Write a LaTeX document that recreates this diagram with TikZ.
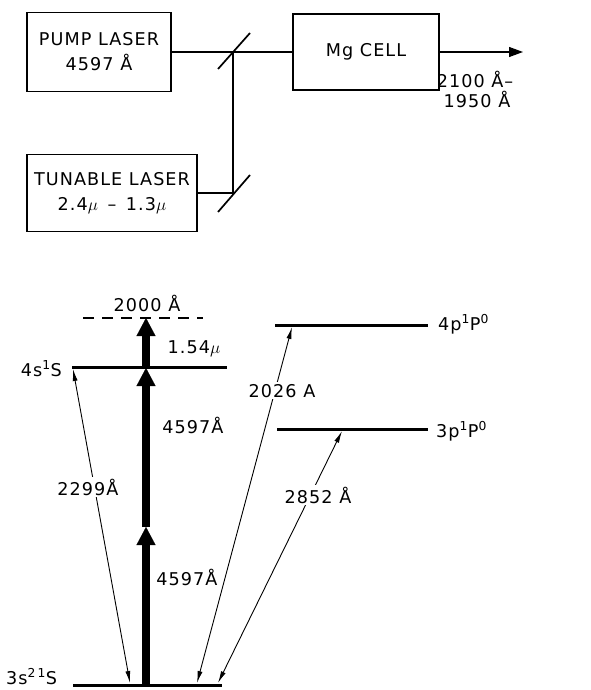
\documentclass[tikz,border=0pt]{standalone}
\usepackage{fontspec}
\setmainfont[LetterSpace=6]{DejaVu Sans}
\usetikzlibrary{arrows.meta,calc}
\begin{document}
\begin{tikzpicture}[x=1pt,y=-1pt,
  txt/.style={font=\fontsize{17.6}{22}\selectfont, inner sep=1pt, anchor=base},
  cut/.style={txt, fill=white, inner sep=2pt},
  box/.style={draw, line width=1.3pt, inner sep=0pt, align=center, font=\fontsize{17.6}{25}\selectfont},
  beam/.style={line width=1.1pt},
  mirror/.style={line width=1.7pt},
  level/.style={line width=3pt},
  trans/.style={line width=0.9pt, {Latex[length=12pt,width=5pt]}-{Latex[length=12pt,width=5pt]}},
  pumparrow/.style={line width=8pt, -{Triangle[length=18pt,width=19pt,line width=0.1pt]}},
  outarrow/.style={beam, -{Triangle[length=14pt,width=10pt]}}]
\useasboundingbox (0,0) rectangle (590,690);
% ---------- optical set-up ----------
\node[box, minimum width=144pt, minimum height=79pt] (pump) at (99,52) {PUMP LASER\\4597 Å};
\node[box, minimum width=170pt, minimum height=77pt] (tun) at (112,193) {TUNABLE LASER\\2.4$\mu$ \,–\, 1.3$\mu$};
\node[box, minimum width=146pt, minimum height=76pt, font=\fontsize{17.6}{22}\selectfont] (mg) at (366,52) {Mg CELL};
\coordinate (m1) at (233,52);
\coordinate (m2) at (233,193);
\coordinate (out) at (523,52);
\draw[beam] (pump.east) -- (m1) -- (mg.west);
\draw[beam] (tun.east) -- (m2) -- (m1);
\draw[mirror] ($(m1)+(-15,17)$) -- ($(m1)+(17,-19)$);
\draw[mirror] ($(m2)+(-15,19)$) -- ($(m2)+(17,-18)$);
\draw[outarrow] (mg.east) -- (out);
\node[txt] (o1) at (475,88) {2100 Å–};
\node[txt] (o2) at (477,108) {1950 Å};
% ---------- energy levels ----------
\coordinate (d1) at (83,318);  \coordinate (d2) at (203,318);
\coordinate (s4a) at (72,367); \coordinate (s4b) at (227,367);
\coordinate (p4a) at (275,325); \coordinate (p4b) at (428,325);
\coordinate (p3a) at (277,429); \coordinate (p3b) at (428,429);
\coordinate (g1) at (73,685);  \coordinate (g2) at (222,685);
\draw[line width=1.2pt, dash pattern=on 11pt off 8pt] (d1) -- (d2);
\draw[level] (s4a) -- (s4b);
\draw[level] (p4a) -- (p4b);
\draw[level] (p3a) -- (p3b);
\draw[level] (g1) -- (g2);
\node[txt, anchor=base east] (l4s) at (63,376) {4s\textsuperscript{1}S};
\node[txt, anchor=base west] (l4p) at (437,330) {4p\textsuperscript{1}P\textsuperscript{0}};
\node[txt, anchor=base west] (l3p) at (435,437) {3p\textsuperscript{1}P\textsuperscript{0}};
\node[txt, anchor=base west] (l3s) at (5,684) {3s\textsuperscript{2\,1}S};
% pump arrows
\coordinate (a0) at (146,685);
\coordinate (a1) at (146,527);
\coordinate (a2) at (146,368);
\coordinate (a3) at (146,318);
\draw[pumparrow] (a0) -- (a1);
\draw[pumparrow] (a1) -- (a2);
\draw[pumparrow] (a2) -- (a3);
\node[txt] (t2000) at (147,311) {2000 Å};
\node[txt] (t154) at (194,353) {1.54$\mu$};
\node[txt] (t4597a) at (193,433) {4597Å};
\node[txt] (t4597b) at (187,585) {4597Å};
% transitions
\coordinate (b1) at (130,683); \coordinate (c1) at (73,369);
\coordinate (b2) at (197,683); \coordinate (c2) at (292,327);
\coordinate (b3) at (218,683); \coordinate (c3) at (342,431);
\draw[trans] (b1) -- (c1);
\draw[trans] (b2) -- (c2);
\draw[trans] (b3) -- (c3);
\node[cut] (t2299) at (88,495) {2299Å};
\node[cut] (t2026) at (282,397) {2026 A};
\node[cut] (t2852) at (318,503) {2852 Å};
\end{tikzpicture}
\end{document}
